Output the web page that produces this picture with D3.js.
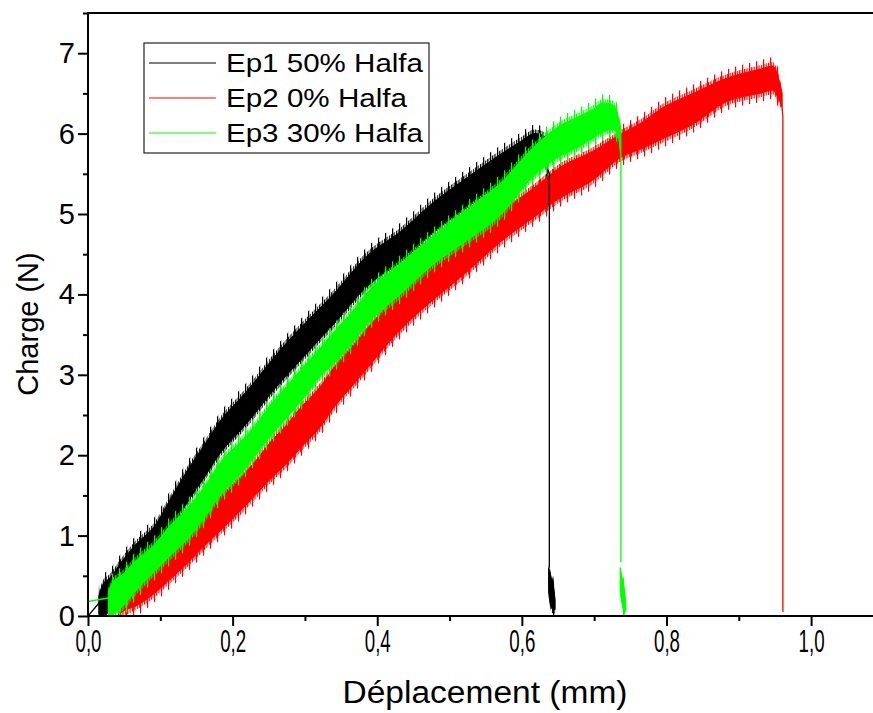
<!DOCTYPE html>
<html>
<head>
<meta charset="utf-8">
<script src="https://cdn.jsdelivr.net/npm/d3@7"></script>
<style>
    body { margin: 0; background: #fff; }
    text { font-family: "Liberation Sans", Arial, sans-serif; fill: #000; }
</style>
</head>
<body>
<div class="chart"></div>
<script>
// envelopes of the noisy load curves (x in mm, load in N)
const ep1X  = [0.015, 0.021, 0.030, 0.046, 0.065, 0.093, 0.113, 0.138, 0.162, 0.184, 0.210, 0.231, 0.252, 0.277, 0.300, 0.322, 0.339, 0.386, 0.432, 0.477, 0.524, 0.570, 0.598, 0.618, 0.632, 0.636];
const ep1Hi = [0.25, 0.40, 0.47, 0.67, 0.88, 1.13, 1.44, 1.82, 2.14, 2.44, 2.70, 2.92, 3.16, 3.42, 3.64, 3.84, 4.00, 4.48, 4.78, 5.14, 5.45, 5.74, 5.90, 6.00, 5.96, 5.78];
const ep1Lo = [0.02, 0.02, 0.05, 0.24, 0.46, 0.74, 1.03, 1.42, 1.74, 2.04, 2.30, 2.52, 2.76, 3.02, 3.24, 3.46, 3.62, 4.10, 4.40, 4.76, 5.08, 5.38, 5.55, 5.70, 5.62, 5.52];

const ep2X  = [0.042, 0.046, 0.065, 0.093, 0.113, 0.138, 0.162, 0.184, 0.210, 0.231, 0.252, 0.277, 0.293, 0.322, 0.339, 0.369, 0.386, 0.432, 0.477, 0.524, 0.570, 0.615, 0.653, 0.698, 0.736, 0.768, 0.791, 0.837, 0.884, 0.906, 0.929, 0.947, 0.954, 0.960];
const ep2Hi = [0.14, 0.29, 0.42, 0.60, 0.79, 1.02, 1.27, 1.50, 1.72, 1.92, 2.16, 2.40, 2.58, 2.86, 3.08, 3.40, 3.58, 4.02, 4.36, 4.70, 5.03, 5.31, 5.58, 5.78, 5.99, 6.15, 6.30, 6.50, 6.69, 6.75, 6.80, 6.84, 6.72, 6.50];
const ep2Lo = [0.00, 0.04, 0.12, 0.29, 0.45, 0.66, 0.88, 1.07, 1.30, 1.50, 1.70, 1.92, 2.08, 2.36, 2.58, 2.90, 3.08, 3.56, 3.93, 4.28, 4.65, 4.95, 5.20, 5.42, 5.70, 5.82, 5.92, 6.12, 6.40, 6.46, 6.50, 6.54, 6.45, 6.33];

const ep3X  = [0.028, 0.034, 0.046, 0.065, 0.093, 0.113, 0.138, 0.162, 0.184, 0.210, 0.231, 0.252, 0.277, 0.300, 0.322, 0.339, 0.369, 0.386, 0.432, 0.477, 0.524, 0.570, 0.615, 0.653, 0.676, 0.698, 0.712, 0.726, 0.733, 0.737];
const ep3Hi = [0.30, 0.42, 0.50, 0.68, 0.90, 1.12, 1.35, 1.62, 1.92, 2.16, 2.37, 2.62, 2.88, 3.12, 3.34, 3.52, 3.82, 4.02, 4.38, 4.72, 5.05, 5.38, 5.82, 6.10, 6.20, 6.30, 6.38, 6.36, 6.22, 6.06];
const ep3Lo = [0.02, 0.02, 0.10, 0.30, 0.56, 0.74, 0.96, 1.23, 1.51, 1.75, 1.99, 2.23, 2.49, 2.73, 2.99, 3.13, 3.43, 3.63, 4.00, 4.37, 4.67, 4.98, 5.46, 5.72, 5.82, 5.94, 6.02, 6.05, 5.98, 5.70];

// rupture: thin vertical drop, then a small noisy tail near zero
const ep1Drop = [[0.636, 5.55], [0.638, 5.50], [0.638, 0.60]];
const ep2Drop = [[0.960, 6.33], [0.961, 6.20], [0.961, 0.05]];
const ep3Drop = [[0.737, 5.71], [0.737, 0.67]];
const ep1TailX = [0.637, 0.640, 0.643, 0.646], ep1TailHi = [0.60, 0.50, 0.40, 0.20], ep1TailLo = [0.30, 0.12, 0.08, 0.08];
const ep3TailX = [0.736, 0.739, 0.742, 0.744], ep3TailHi = [0.60, 0.44, 0.30, 0.14], ep3TailLo = [0.30, 0.14, 0.07, 0.06];

// thin pre-load segments at the origin
const ep1Start = [[0, 0], [0.017, 0.18]];
const ep3Start = [[0, 0.18], [0.032, 0.23]];

const xMajor = [0, 0.2, 0.4, 0.6, 0.8, 1.0];
const xMinor = [0.1, 0.3, 0.5, 0.7, 0.9];
const yMajor = [0, 1, 2, 3, 4, 5, 6, 7];
const yMinor = [0.5, 1.5, 2.5, 3.5, 4.5, 5.5, 6.5, 7.5];

const legendLabels = ["Ep1 50% Halfa", "Ep2 0% Halfa", "Ep3 30% Halfa"];
const legendWidths = [197, 181, 197];
const colors = {ep1: "#000000", ep2: "#ff0000", ep3: "#00ff00"};

let W = 873, H = 713;
let mLeft = 88, mTop = 13, mBottom = 616, mRight = 874;

let svg = d3.select(".chart").append("svg")
    .attr("width", W)
    .attr("height", H);

let x = d3.scaleLinear().domain([0, 1.087]).range([mLeft, mRight]);
let y = d3.scaleLinear().domain([0, 7.5]).range([mBottom, mTop]);

let defs = svg.append("defs");
defs.append("clipPath").attr("id", "plot")
    .append("rect")
    .attr("x", mLeft).attr("y", mTop)
    .attr("width", mRight - mLeft).attr("height", mBottom - mTop);

// vertical stripe patterns: used for the spiky fringe of each band
let stripes = (id, color, period, w) => {
    defs.append("pattern")
        .attr("id", id)
        .attr("patternUnits", "userSpaceOnUse")
        .attr("width", period).attr("height", 20)
        .append("rect")
        .attr("width", w).attr("height", 20)
        .attr("fill", color);
    return "url(#" + id + ")";
};

let plot = svg.append("g").attr("clip-path", "url(#plot)");

let band = (xs, his, los) => xs.map((v, i) => ({x: v, hi: his[i], lo: los[i]}));

let areaPad = pad => d3.area()
    .curve(d3.curveMonotoneX)
    .x(d => x(d.x))
    .y0(d => y(Math.max(0, d.lo - pad)))
    .y1(d => y(d.hi + pad));

let line = d3.line()
    .x(d => x(d[0]))
    .y(d => y(d[1]));

let drawCurve = (name, data, tail, drop, start, color) => {
    let far = stripes(name + "-far", color, 7, 1.2);
    let near = stripes(name + "-near", color, 2.4, 1.2);
    [data, tail].forEach(b => {
        if (!b) return;
        plot.append("path").datum(b).attr("d", areaPad(0.11)).attr("fill", far);
        plot.append("path").datum(b).attr("d", areaPad(0.05)).attr("fill", near);
        plot.append("path").datum(b).attr("d", areaPad(0)).attr("fill", color)
            .attr("stroke", color).attr("stroke-width", 1);
    });
    [drop, start].forEach(l => {
        if (!l) return;
        plot.append("path")
            .datum(l)
            .attr("d", line)
            .attr("fill", "none")
            .attr("stroke", color)
            .attr("stroke-width", 1.3);
    });
};

/************* curves ***********/
drawCurve("ep2", band(ep2X, ep2Hi, ep2Lo), null, ep2Drop, null, colors.ep2);
drawCurve("ep1", band(ep1X, ep1Hi, ep1Lo), band(ep1TailX, ep1TailHi, ep1TailLo), ep1Drop, ep1Start, colors.ep1);
drawCurve("ep3", band(ep3X, ep3Hi, ep3Lo), band(ep3TailX, ep3TailHi, ep3TailLo), ep3Drop, ep3Start, colors.ep3);

/************* axes ***********/
let fmt = d => d3.format(".1f")(d).replace(".", ",");

let gx = svg.append("g")
    .attr("transform", "translate(0," + mBottom + ")")
    .call(d3.axisBottom(x).tickValues(xMajor).tickSize(10).tickFormat(fmt));
svg.append("g")
    .attr("transform", "translate(0," + mBottom + ")")
    .call(d3.axisBottom(x).tickValues(xMinor).tickSize(5).tickFormat(""));

let gy = svg.append("g")
    .attr("transform", "translate(" + mLeft + ",0)")
    .call(d3.axisLeft(y).tickValues(yMajor).tickSize(10).tickFormat(d3.format("d")));
svg.append("g")
    .attr("transform", "translate(" + mLeft + ",0)")
    .call(d3.axisLeft(y).tickValues(yMinor).tickSize(5).tickFormat(""));

svg.selectAll(".domain").remove();
svg.selectAll(".tick line").attr("stroke", "#000").attr("stroke-width", 2);

gx.selectAll("text")
    .attr("y", 36)
    .attr("dy", 0)
    .attr("font-size", 31)
    .attr("textLength", 26)
    .attr("lengthAdjust", "spacingAndGlyphs");

gy.selectAll("text")
    .attr("x", -13)
    .attr("dy", "0.33em")
    .attr("font-size", 29);

// frame
svg.append("rect")
    .attr("x", mLeft).attr("y", mTop)
    .attr("width", mRight - mLeft).attr("height", mBottom - mTop)
    .attr("fill", "none")
    .attr("stroke", "#000")
    .attr("stroke-width", 2);

svg.append("text")
    .attr("x", 485)
    .attr("y", 703)
    .attr("text-anchor", "middle")
    .attr("font-size", 31)
    .attr("textLength", 285)
    .attr("lengthAdjust", "spacingAndGlyphs")
    .text("Déplacement (mm)");

svg.append("text")
    .attr("transform", "translate(38,324) rotate(-90)")
    .attr("text-anchor", "middle")
    .attr("font-size", 29)
    .text("Charge (N)");

/************* legend ***********/
let legend = svg.append("g");
legend.append("rect")
    .attr("x", 144).attr("y", 43)
    .attr("width", 285).attr("height", 110)
    .attr("fill", "#fff")
    .attr("stroke", "#222")
    .attr("stroke-width", 1.2);

[colors.ep1, colors.ep2, colors.ep3].forEach((c, i) => {
    legend.append("line")
        .attr("x1", 149).attr("x2", 216)
        .attr("y1", 63 + i * 35).attr("y2", 63 + i * 35)
        .attr("stroke", c)
        .attr("stroke-width", 1.2);
    legend.append("text")
        .attr("x", 226)
        .attr("y", 72 + i * 35)
        .attr("font-size", 26)
        .attr("textLength", legendWidths[i])
        .attr("lengthAdjust", "spacingAndGlyphs")
        .text(legendLabels[i]);
});
</script>
</body>
</html>
